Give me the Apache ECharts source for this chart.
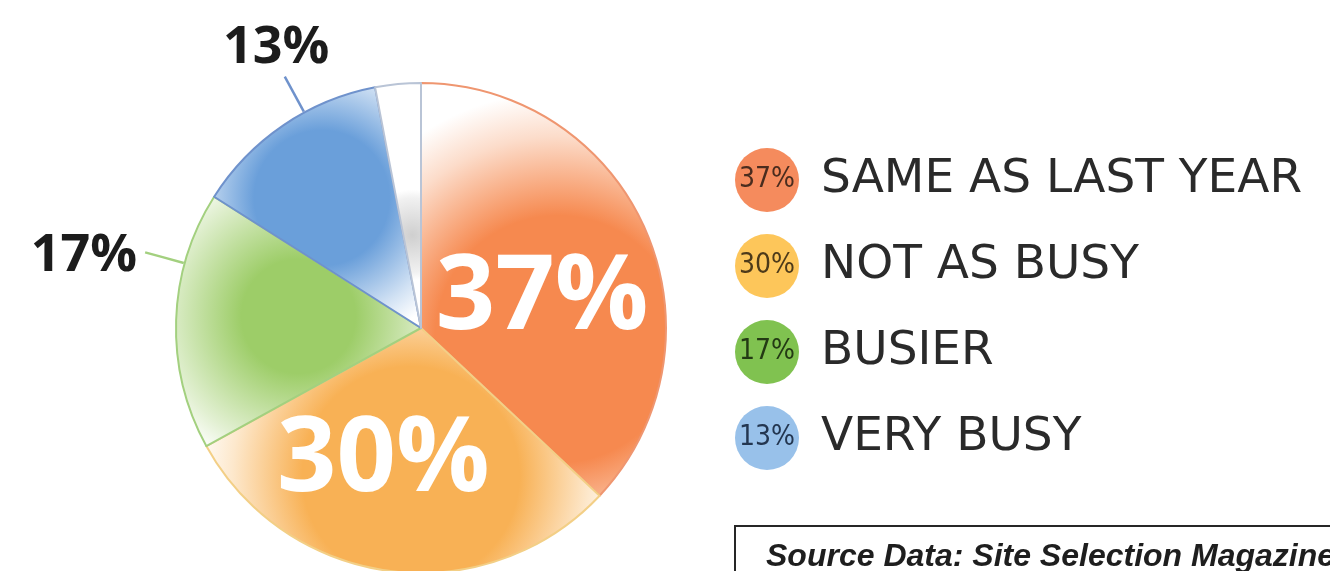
<!DOCTYPE html>
<html>
<head>
<meta charset="utf-8">
<script src="https://cdn.jsdelivr.net/npm/echarts@6/dist/echarts.min.js"></script>
<style>
  html, body { margin: 0; padding: 0; background: #ffffff; }
  #chart { width: 1330px; height: 571px; }
</style>
</head>
<body>
<div id="chart"></div>
<script>
// data
var categories = ['SAME AS LAST YEAR', 'NOT AS BUSY', 'BUSIER', 'VERY BUSY', 'OTHER'];
var values = [37, 30, 17, 13, 3];
var legendItems = ['SAME AS LAST YEAR', 'NOT AS BUSY', 'BUSIER', 'VERY BUSY'];

// styles
var pieCenter = [421, 328];
var pieRadius = 245;
var sliceColors = ['#f6894f', '#f8b155', '#9dcd68', '#6a9fda', '#cfcfcf'];
var edgeColors = ['#ef9670', '#f3cf86', '#a3d07f', '#6f92cc', '#b9c4d6'];
var dotColors = ['#f58b5d', '#fdc65a', '#80c250', '#98c1ea'];
var dotText = ['#4a2c1e', '#4d3a1a', '#233a14', '#233650'];
// [x, y, r, solid part] of each slice's soft glow, relative to the slice box
var glowSpots = [
  [0.56, 0.62, 1.0, 0.5],
  [0.52, 0.60, 0.88, 0.5],
  [0.50, 0.48, 0.66, 0.35],
  [0.52, 0.46, 0.72, 0.45],
  [0.80, 0.62, 0.95, 0.0]
];
var labelSide = ['inside', 'inside', 'outside', 'outside', 'none'];
// shift of each label from where the pie puts it
var labelNudge = [[6, 21], [-22, 9], [-4, -63], [68, -52], null];
// where the leader line meets the label: [fx, fy, gapX, gapY] of the label box
var lineEndAt = [null, null, [1, 0.5, 8, -4], [0.58, 1, 0, 2], null];

function glow(i) {
  var g = glowSpots[i];
  return {
    type: 'radial', x: g[0], y: g[1], r: g[2],
    colorStops: [
      { offset: 0, color: sliceColors[i] },
      { offset: g[3], color: sliceColors[i] },
      { offset: 0.82, color: echarts.color.lerp(0.7, [sliceColors[i], '#ffffff']) },
      { offset: 1, color: '#ffffff' }
    ]
  };
}

var pieData = categories.map(function (name, i) {
  var side = labelSide[i];
  return {
    name: name,
    value: values[i],
    itemStyle: { color: glow(i), borderColor: edgeColors[i], borderWidth: 2 },
    label: side === 'inside' ? {
      show: true, position: 'inside', color: '#ffffff',
      fontFamily: 'Open Sans', fontWeight: 'bold', fontSize: 104
    } : side === 'outside' ? {
      show: true, position: 'outside', color: '#1c1c1c',
      fontFamily: 'Open Sans', fontWeight: 'bold', fontSize: 52
    } : { show: false },
    labelLine: side === 'outside' ? {
      show: true, length: 30, length2: 0,
      lineStyle: { color: edgeColors[i], width: 2.5 }
    } : { show: false }
  };
});

var rich = { t: { fontFamily: 'DejaVu Sans', fontSize: 47, color: '#2a2a2a', padding: [0, 0, 0, 22] } };
legendItems.forEach(function (n, i) {
  rich['p' + i] = {
    width: 64, height: 64, lineHeight: 64, borderRadius: 32, align: 'center',
    backgroundColor: dotColors[i], color: dotText[i],
    fontFamily: "'DejaVu Sans Condensed', 'Roboto Condensed', 'Liberation Sans Narrow', sans-serif",
    fontSize: 28
  };
});

var myChart = echarts.init(document.getElementById('chart'));
myChart.setOption({
  backgroundColor: '#ffffff',
  animation: false,
  legend: {
    data: legendItems,
    orient: 'vertical',
    left: 724,
    top: 143,
    itemWidth: 0,
    itemHeight: 0,
    itemGap: 22,
    selectedMode: false,
    formatter: function (name) {
      var i = legendItems.indexOf(name);
      return '{p' + i + '|' + values[i] + '%}{t|' + name + '}';
    },
    textStyle: { rich: rich }
  },
  graphic: [{
    type: 'rect',
    shape: { x: 735, y: 526, width: 700, height: 80 },
    style: { fill: 'none', stroke: '#262626', lineWidth: 2 }
  }, {
    type: 'text',
    x: 766, y: 573,
    style: {
      text: 'Source Data: Site Selection Magazine',
      font: 'italic bold 32px "Liberation Sans", Arial, sans-serif',
      fill: '#1e1e1e',
      verticalAlign: 'bottom'
    }
  }],
  series: [{
    type: 'pie',
    center: pieCenter,
    radius: pieRadius,
    startAngle: 90,
    clockwise: true,
    avoidLabelOverlap: false,
    emphasis: { disabled: true },
    label: { formatter: '{c}%' },
    labelLayout: function (p) {
      var n = labelNudge[p.dataIndex];
      if (!n) return null;
      var r = p.labelRect;
      var cx = r.x + r.width / 2 + n[0];
      var cy = r.y + r.height / 2 + n[1];
      var out = { x: cx, y: cy, align: 'center', verticalAlign: 'middle' };
      var e = lineEndAt[p.dataIndex];
      if (e) {
        var ex = cx - r.width / 2 + e[0] * r.width + e[2];
        var ey = cy - r.height / 2 + e[1] * r.height + e[3];
        var dx = ex - pieCenter[0], dy = ey - pieCenter[1];
        var d = Math.sqrt(dx * dx + dy * dy);
        var sx = pieCenter[0] + dx / d * (pieRadius + 1);
        var sy = pieCenter[1] + dy / d * (pieRadius + 1);
        out.labelLinePoints = [[sx, sy], [(sx + ex) / 2, (sy + ey) / 2], [ex, ey]];
      }
      return out;
    },
    data: pieData
  }]
});
</script>
</body>
</html>
